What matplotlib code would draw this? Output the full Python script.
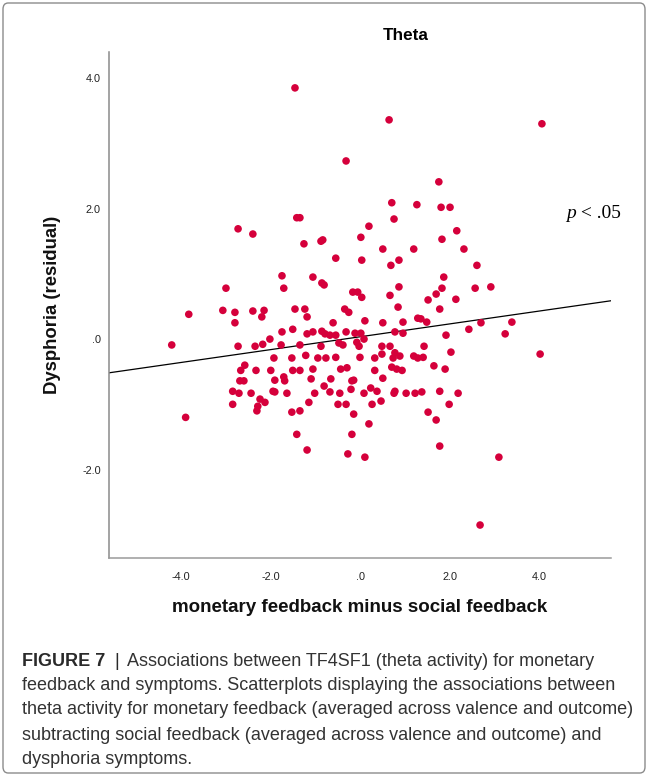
import matplotlib
matplotlib.use("Agg")
import matplotlib.pyplot as plt
from matplotlib.patches import FancyBboxPatch
import numpy as np

# ---------------- data ----------------
x_vals = [
    -1.46, 0.64, 4.05, -0.32, 1.75, 0.70, 1.26, 1.80, 2.00, -1.42,
    -1.35, 0.75, 0.19, -2.73, 2.15, -2.40, 0.01, 1.82, -0.88, -0.84,
    -1.26, 0.50, 1.19, 2.31, -0.55, 0.03, 0.86, 0.68, 2.60, -1.75,
    -1.06, 1.86, -0.86, -0.81, -1.71, -3.00, 0.86, 1.82, 2.56, 2.91,
    -0.17, -0.06, 0.03, 0.66, 1.69, 1.51, 2.13, 0.84, 1.77, -3.83,
    -3.07, -2.80, -2.80, -2.40, -2.15, -2.20, -1.46, -1.24, -1.19, -0.35,
    -0.26, 0.10, -0.61, 0.50, 0.95, 1.28, 1.35, 1.48, 2.42, 2.69,
    3.38, 3.23, 1.91, 0.77, 0.95, -0.12, 0.01, -1.75, -1.51, -1.19,
    -1.06, -0.86, -0.79, -0.68, -0.55, -0.32, 0.08, -0.08, -0.03, -4.21,
    -2.73, -2.35, -2.18, -2.02, -1.77, -1.35, -0.88, -0.48, -0.39, 0.48,
    0.66, 1.42, 2.02, 4.01, 0.48, 0.77, 0.73, 0.88, 1.19, 1.28,
    1.40, -0.01, 0.32, -1.93, -1.53, -1.22, -0.95, -0.77, -0.55, -2.58,
    -2.67, -2.33, -2.00, -1.51, -1.35, -1.06, -0.44, -0.30, 0.32, 0.70,
    0.81, 0.93, 1.64, 1.89, 0.50, -2.69, -2.60, -1.91, -1.71, -1.69,
    -1.10, -0.66, -0.19, -0.15, -0.21, -2.85, -2.71, -2.44, -1.95, -1.91,
    -1.64, -0.81, -0.68, -1.02, -0.46, 0.08, 0.23, 0.37, 0.75, 0.77,
    1.02, 1.22, 1.37, 1.77, 2.18, -2.85, -2.24, -2.13, -2.29, -2.31,
    -1.15, -0.50, -0.32, 0.26, 0.46, 1.98, -1.53, -1.35, -0.15, 1.51,
    1.69, 0.19, -3.90, -1.42, -0.19, -1.19, -0.28, 0.10, 1.77, 3.09,
    2.67,
]
y_vals = [
    3.85, 3.36, 3.30, 2.73, 2.41, 2.09, 2.06, 2.02, 2.02, 1.86,
    1.86, 1.84, 1.73, 1.69, 1.66, 1.61, 1.56, 1.53, 1.50, 1.52,
    1.46, 1.38, 1.38, 1.38, 1.24, 1.21, 1.21, 1.13, 1.13, 0.97,
    0.95, 0.95, 0.86, 0.83, 0.78, 0.78, 0.80, 0.78, 0.78, 0.80,
    0.72, 0.72, 0.64, 0.67, 0.69, 0.60, 0.61, 0.49, 0.46, 0.38,
    0.44, 0.41, 0.25, 0.43, 0.44, 0.34, 0.46, 0.46, 0.34, 0.46,
    0.41, 0.28, 0.25, 0.25, 0.26, 0.32, 0.31, 0.26, 0.15, 0.25,
    0.26, 0.08, 0.06, 0.11, 0.09, 0.09, 0.09, 0.11, 0.15, 0.08,
    0.11, 0.12, 0.08, 0.06, 0.06, 0.11, 0.00, -0.05, -0.11, -0.09,
    -0.11, -0.11, -0.08, 0.00, -0.09, -0.09, -0.11, -0.06, -0.09, -0.11,
    -0.11, -0.11, -0.20, -0.23, -0.23, -0.21, -0.29, -0.26, -0.26, -0.29,
    -0.28, -0.28, -0.29, -0.29, -0.29, -0.25, -0.29, -0.29, -0.28, -0.40,
    -0.48, -0.48, -0.48, -0.48, -0.48, -0.46, -0.46, -0.44, -0.48, -0.43,
    -0.46, -0.48, -0.41, -0.46, -0.60, -0.64, -0.64, -0.63, -0.58, -0.64,
    -0.61, -0.61, -0.64, -0.63, -0.77, -0.80, -0.83, -0.83, -0.80, -0.81,
    -0.83, -0.72, -0.81, -0.83, -0.83, -0.83, -0.75, -0.80, -0.83, -0.80,
    -0.83, -0.83, -0.81, -0.80, -0.83, -1.00, -0.92, -0.97, -1.03, -1.10,
    -0.97, -1.00, -1.00, -1.00, -0.95, -1.00, -1.12, -1.10, -1.15, -1.12,
    -1.24, -1.30, -1.20, -1.46, -1.46, -1.70, -1.76, -1.81, -1.64, -1.81,
    -2.85,
]
fit_intercept = 0.036
fit_slope = 0.0986

x_ticks = [-4.0, -2.0, 0.0, 2.0, 4.0]
x_tick_labels = ["-4.0", "-2.0", ".0", "2.0", "4.0"]
y_ticks = [-2.0, 0.0, 2.0, 4.0]
y_tick_labels = ["-2.0", ".0", "2.0", "4.0"]

title = "Theta"
x_label = "monetary feedback minus social feedback"
y_label = "Dysphoria (residual)"
annotation = "p"
annotation_rest = " < .05"
caption_bold = "FIGURE 7"
caption_bar = "|"
caption_lines = [
    "Associations between TF4SF1 (theta activity) for monetary",
    "feedback and symptoms. Scatterplots displaying the associations between",
    "theta activity for monetary feedback (averaged across valence and outcome)",
    "subtracting social feedback (averaged across valence and outcome) and",
    "dysphoria symptoms.",
]

# ---------------- figure ----------------
W, H = 651, 776
fig = plt.figure(figsize=(W / 100, H / 100), dpi=100)
fig.patch.set_facecolor("white")

def fx(px):
    return px / W

def fy(py):
    return 1 - py / H

# outer border
border = FancyBboxPatch((fx(3), fy(773)), fx(645) - fx(3), fy(3) - fy(773),
                        boxstyle="round,pad=0,rounding_size=0.008",
                        transform=fig.transFigure, facecolor="none",
                        edgecolor="#8c8c8c", linewidth=1.0)
fig.patches.append(border)

ax_left, ax_right = 109, 610.7
ax_top, ax_bottom = 52, 558.3
ax = fig.add_axes([fx(ax_left), fy(ax_bottom), fx(ax_right) - fx(ax_left),
                   fy(ax_top) - fy(ax_bottom)])
xlim = (-5.61, 5.585)
ylim = (-3.36, 4.40)
ax.set_xlim(*xlim)
ax.set_ylim(*ylim)

ax.scatter(x_vals, y_vals, s=30, color="#D5003B", edgecolors="none", zorder=3)

xs = np.array(xlim)
ax.plot(xs, fit_intercept + fit_slope * xs, color="black", linewidth=0.9, zorder=2)

for s in ["top", "right"]:
    ax.spines[s].set_visible(False)
ax.spines["left"].set_color("#8a8a8a")
ax.spines["bottom"].set_color("#9a9a9a")
ax.spines["left"].set_linewidth(1.1)
ax.spines["bottom"].set_linewidth(1.1)

ax.set_xticks(x_ticks)
ax.set_xticklabels(x_tick_labels, fontsize=7.8, color="#222222", family="Liberation Sans")
ax.set_yticks(y_ticks)
ax.set_yticklabels(y_tick_labels, fontsize=7.8, color="#222222", family="Liberation Sans")
ax.tick_params(axis="both", length=0)
ax.tick_params(axis="x", pad=10)
ax.tick_params(axis="y", pad=6)

fig.text(fx(406), fy(35), title, ha="center", va="center", fontsize=12.3,
         fontweight="bold", family="Liberation Sans")
fig.text(fx(360), fy(607), x_label, ha="center", va="center", fontsize=13.5,
         fontweight="bold", family="Liberation Sans", color="#111111")
fig.text(fx(53), fy(305), y_label, ha="center", va="center", rotation=90,
         fontsize=13.3, fontweight="bold", family="Liberation Sans", color="#111111")

r = fig.canvas.get_renderer()
t1 = fig.text(fx(566), fy(214), annotation, ha="left", va="center", fontsize=14,
              style="italic", family="Liberation Serif")
bb = t1.get_window_extent(r)
fig.text(bb.x1 / W, fy(214), annotation_rest, ha="left", va="center", fontsize=14,
         family="Liberation Serif")

# caption
cap_fs = 13
cap_family = "Liberation Sans"
cap_color = "#333333"
line_y = [661, 686, 710, 735, 759]
fig.text(fx(22), fy(line_y[0]), caption_bold, ha="left", va="center",
         fontsize=cap_fs, fontweight="bold", family=cap_family, color="#2a2a2a")
fig.text(fx(117), fy(line_y[0]), caption_bar, ha="center", va="center",
         fontsize=cap_fs, family=cap_family, color="#2a2a2a")
fig.text(fx(127), fy(line_y[0]), caption_lines[0], ha="left", va="center",
         fontsize=cap_fs, family=cap_family, color=cap_color)
for i in range(1, len(caption_lines)):
    fig.text(fx(22), fy(line_y[i]), caption_lines[i], ha="left", va="center",
             fontsize=cap_fs, family=cap_family, color=cap_color)

fig.savefig("out.png", dpi=100, facecolor="white")
